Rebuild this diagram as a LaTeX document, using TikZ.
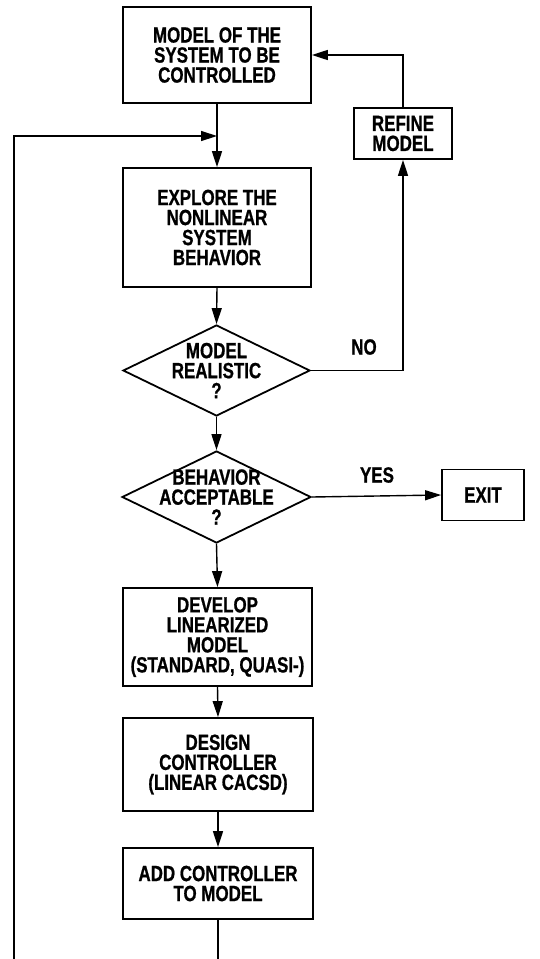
\documentclass[tikz,border=0pt]{standalone}
\usepackage{fontspec}
\setmainfont{Liberation Sans}[FakeStretch=0.77,FakeBold=0.8]
\usetikzlibrary{arrows.meta,shapes.geometric}
\begin{document}
\begin{tikzpicture}[x=1pt,y=-1pt,
  txt/.style={font=\fontsize{22}{20}\selectfont\bfseries, align=center},
  box/.style={txt, draw, line width=1.8pt, inner sep=0pt},
  dia/.style={draw, diamond, line width=1.8pt, inner sep=0pt},
  conn/.style={line width=1.4pt},
  arr/.style={conn, -{Triangle[length=16pt,width=10pt]}}]
\useasboundingbox (0,0) rectangle (539,959);
\node[box, minimum width=188pt, minimum height=96pt] (b1) at (217,55) {MODEL OF THE\\SYSTEM TO BE\\CONTROLLED};
\node[box, minimum width=188pt, minimum height=119pt] (b2) at (217,227.5) {EXPLORE THE\\NONLINEAR\\SYSTEM\\BEHAVIOR};
\node[box, minimum width=98pt, minimum height=51pt] (ref) at (403,133.5) {REFINE\\MODEL};
\node[dia, minimum width=187pt, minimum height=91pt, label={[txt]center:{MODEL\\REALISTIC\\?}}] (d1) at (216.5,370.5) {};
\node[dia, minimum width=189pt, minimum height=92pt, label={[txt]center:{BEHAVIOR\\ACCEPTABLE\\?}}] (d2) at (216.5,497) {};
\node[box, minimum width=82pt, minimum height=51pt] (exit) at (483,495) {EXIT};
\node[box, minimum width=189pt, minimum height=98pt] (b3) at (217.5,637) {DEVELOP\\LINEARIZED\\MODEL\\(STANDARD, QUASI-)};
\node[box, minimum width=190pt, minimum height=93pt] (b4) at (218,764.5) {DESIGN\\CONTROLLER\\(LINEAR CACSD)};
\node[box, minimum width=190pt, minimum height=71pt] (b5) at (218,883.5) {ADD CONTROLLER\\TO MODEL};
\node[txt] (no) at (364,347) {NO};
\node[txt] (yes) at (377,475) {YES};
\coordinate (m) at (217,136);
\coordinate (bot) at (218,959);
\coordinate (bl) at (14,959);
\draw[arr] (b1.south) -- (b2.north);
\draw[arr] (b2.south) -- (d1.north);
\draw[arr] (d1.east) -| (ref.south);
\draw[arr] (ref.north) |- (b1.east);
\draw[arr] (d1.south) -- (d2.north);
\draw[arr] (d2.east) -- (exit.west);
\draw[arr] (d2.south) -- (b3.north);
\draw[arr] (b3.south) -- (b4.north);
\draw[arr] (b4.south) -- (b5.north);
\draw[conn] (b5.south) -- (bot);
\draw[arr] (bl) |- (m);
\end{tikzpicture}
\end{document}
